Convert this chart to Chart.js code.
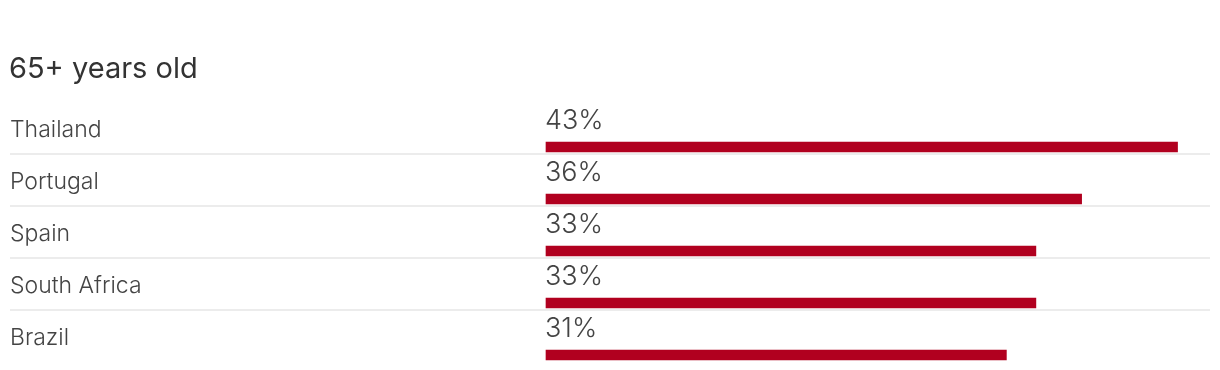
<!DOCTYPE html>
<html>
<head>
<meta charset="utf-8">
<script src="https://cdn.jsdelivr.net/npm/chart.js@4"></script>
<style>
  html, body { margin: 0; padding: 0; background: #fff; }
  #wrap { width: 1220px; height: 370px; }
</style>
</head>
<body>
<div id="wrap"><canvas id="barChart"></canvas></div>
<script>
var title = "65+ years old";
var countries = ["Thailand", "Portugal", "Spain", "South Africa", "Brazil"];
var shares = [42.8, 36.3, 33.2, 33.2, 31.2];

// labels, value text and row separators
var rowText = {
  id: "rowText",
  afterDatasetsDraw: function (chart) {
    var c = chart.ctx;
    var y = chart.scales.y;
    var x = chart.scales.x;
    c.save();
    c.fillStyle = "#333";
    c.font = "400 29px Inter";
    c.textBaseline = "alphabetic";
    c.textAlign = "left";
    c.fillText(title, 9, 78);

    countries.forEach(function (name, i) {
      var py = y.getPixelForValue(i);
      if (i < countries.length - 1) {
        c.fillStyle = "#ececec";
        c.fillRect(10, py + 6, 1200, 2);
      }
      c.fillStyle = "#444";
      c.font = "300 23px Inter";
      c.fillText(name, 10, py - 10);
      c.font = "300 27px Inter";
      c.fillText(Math.round(shares[i]) + "%", x.left - 1, py - 18);
    });
    c.restore();
  }
};

var ctx = document.getElementById("barChart").getContext("2d");
var myChart = new Chart(ctx, {
  type: "bar",
  data: {
    labels: countries,
    datasets: [
      {
        data: shares,
        backgroundColor: "#b1001f",
        borderWidth: 0,
        barThickness: 10,
        clip: false,
      },
    ],
  },
  options: {
    indexAxis: "y",
    responsive: true,
    maintainAspectRatio: false,
    animation: false,
    layout: { padding: { left: 546, right: 10, top: 147, bottom: 15 } },
    plugins: { legend: { display: false }, tooltip: { enabled: false } },
    scales: {
      x: { display: false, min: 0, max: 45 },
      y: { display: false, offset: false },
    },
  },
  plugins: [rowText],
});
</script>
</body>
</html>
